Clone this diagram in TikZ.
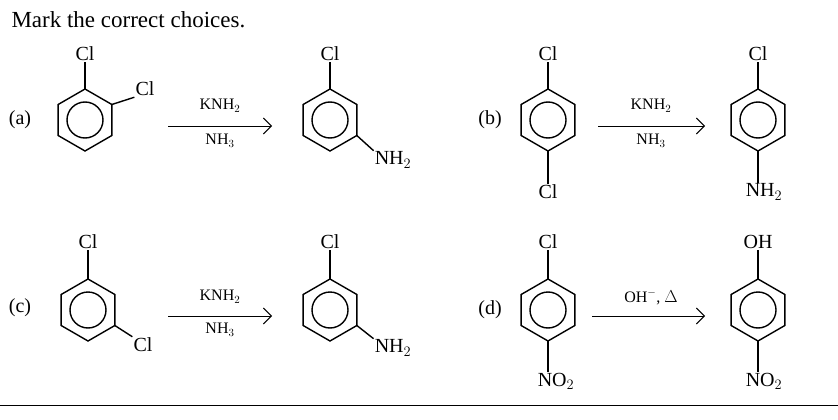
\documentclass[tikz,border=0pt]{standalone}
\usepackage{fontspec}
\setmainfont{Liberation Serif}
\usetikzlibrary{arrows.meta,calc}
\newcommand\benz[3]{%
  \foreach \k in {0,...,5}{\coordinate (#1-\k) at ($(#2,#3)+({-90+60*\k}:31)$);}
  \draw[bond] (#1-0)--(#1-1)--(#1-2)--(#1-3)--(#1-4)--(#1-5)--cycle;
  \draw[bond] (#2,#3) circle (18);
}
\begin{document}
\begin{tikzpicture}[x=1pt,y=-1pt,
  bond/.style={line width=1.4pt},
  lab/.style={font=\fontsize{20}{20}\selectfont, inner sep=1pt},
  rlab/.style={font=\fontsize{16}{16}\selectfont, inner sep=1pt},
  rxn/.style={line width=0.9pt,-{Straight Barb[length=8pt]}}]
\useasboundingbox (0,0) rectangle (838,420);
\node[anchor=base west, font=\fontsize{23}{23}\selectfont] (title) at (8,28) {Mark the correct choices.};
\draw[line width=1pt] (0,405) -- (838,405);
% (a)
\node[lab] (la) at (20,120) {(a)};
\benz{a1}{85}{120}
\node[lab] (a1cl) at (85,54) {Cl};
\draw[bond] (a1-0) -- (a1cl);
\node[lab] (a1cl2) at (145,89) {Cl};
\draw[bond] (a1-1) -- (a1cl2.south west);
\coordinate (a0) at (168,126); \coordinate (a9) at (272,126);
\draw[rxn] (a0) -- (a9);
\node[rlab] (ak) at (220,106) {KNH$_2$};
\node[rlab] (an) at (220,141) {NH$_3$};
\benz{a2}{330}{120}
\node[lab] (a2cl) at (330,54) {Cl};
\draw[bond] (a2-0) -- (a2cl);
\node[lab] (a2n) at (393,160) {NH$_2$};
\draw[bond] (a2-2) -- (a2n.north west);
% (b)
\node[lab] (lb) at (490,120) {(b)};
\benz{b1}{548}{120}
\node[lab] (b1cl) at (548,54) {Cl};
\draw[bond] (b1-0) -- (b1cl);
\node[lab] (b1cl2) at (548,192) {Cl};
\draw[bond] (b1-3) -- (b1cl2);
\coordinate (b0) at (598,126); \coordinate (b9) at (705,126);
\draw[rxn] (b0) -- (b9);
\node[rlab] (bk) at (651,106) {KNH$_2$};
\node[rlab] (bn) at (651,141) {NH$_3$};
\benz{b2}{758}{120}
\node[lab] (b2cl) at (758,54) {Cl};
\draw[bond] (b2-0) -- (b2cl);
\node[lab] (b2n) at (764,192) {NH$_2$};
\draw[bond] (b2-3) -- (b2-3 |- b2n.north);
% (c)
\node[lab] (lc) at (20,308) {(c)};
\benz{c1}{88}{310}
\node[lab] (c1cl) at (88,242) {Cl};
\draw[bond] (c1-0) -- (c1cl);
\node[lab] (c1cl2) at (143,345) {Cl};
\draw[bond] (c1-2) -- (c1cl2.north west);
\coordinate (c0) at (168,316); \coordinate (c9) at (272,316);
\draw[rxn] (c0) -- (c9);
\node[rlab] (ck) at (220,297) {KNH$_2$};
\node[rlab] (cn) at (220,330) {NH$_3$};
\benz{c2}{330}{310}
\node[lab] (c2cl) at (330,242) {Cl};
\draw[bond] (c2-0) -- (c2cl);
\node[lab] (c2n) at (393,348) {NH$_2$};
\draw[bond] (c2-2) -- (c2n.north west);
% (d)
\node[lab] (ld) at (490,310) {(d)};
\benz{d1}{548}{310}
\node[lab] (d1cl) at (548,242) {Cl};
\draw[bond] (d1-0) -- (d1cl);
\node[lab] (d1n) at (556,381) {NO$_2$};
\draw[bond] (d1-3) -- (d1-3 |- d1n.north);
\coordinate (d0) at (592,316); \coordinate (d9) at (705,316);
\draw[rxn] (d0) -- (d9);
\node[rlab] (dk) at (651,297) {OH$^{-}$, $\Delta$};
\benz{d2}{758}{310}
\node[lab] (d2oh) at (758,242) {OH};
\draw[bond] (d2-0) -- (d2oh);
\node[lab] (d2n) at (764,381) {NO$_2$};
\draw[bond] (d2-3) -- (d2-3 |- d2n.north);
\end{tikzpicture}
\end{document}
